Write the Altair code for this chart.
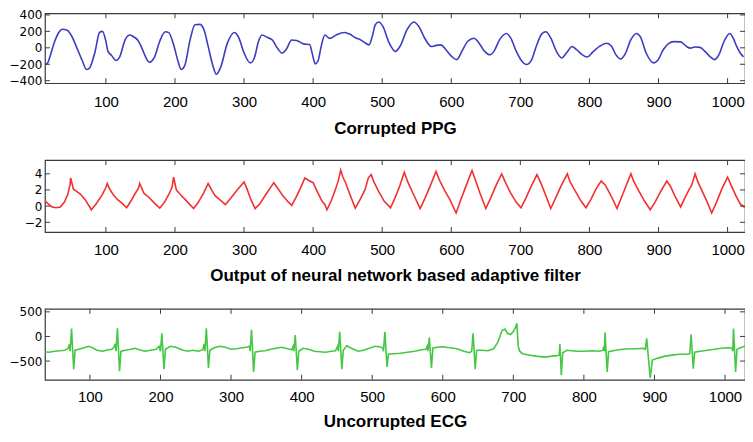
import altair as alt
import pandas as pd

# ---- data (sample index, value) ----
ppg_points = [
    (13, -200), (16, -180), (20, -80), (26, 80), (32, 190), (37, 225), (44, 215), (50, 150), (58, 0),
    (66, -160), (72, -263), (76, -250), (84, -60), (91, 190), (95, 200), (100, 80), (103, -44), (108, -90),
    (115, -155), (120, -110), (128, 100), (135, 155), (141, 130), (146, 95), (152, 0), (158, -120),
    (163, -175), (170, -120), (178, 80), (186, 195), (191, 185), (198, 40), (204, -150), (209, -263),
    (214, -220), (222, 100), (229, 280), (236, 285), (242, 220), (248, 20), (255, -220), (260, -322),
    (266, -240), (276, 60), (286, 187), (292, 130), (300, -60), (309, -183), (315, -120), (321, 80),
    (326, 155), (334, 125), (341, 95), (348, 0), (355, -64), (361, -20), (369, 95), (376, 90), (386, 48),
    (395, 40), (399, -80), (403, -195), (407, -160), (412, 30), (417, 155), (424, 115), (434, 160),
    (445, 187), (452, 170), (462, 120), (469, 95), (476, 56), (481, 36), (486, 150), (490, 280),
    (495, 314), (501, 260), (510, 60), (519, -44), (526, 20), (536, 220), (546, 314), (553, 260),
    (562, 110), (571, 16), (578, 30), (585, 36), (592, -20), (600, -100), (608, -143), (616, -30),
    (624, 80), (633, 116), (640, 60), (648, -40), (656, -84), (662, -40), (670, 100), (680, 175),
    (686, 120), (694, -40), (702, -160), (709, -203), (716, -150), (724, 40), (731, 170), (737, 195),
    (744, 120), (752, -40), (760, -123), (767, -60), (775, 16), (781, -20), (789, -80), (797, -111),
    (805, -50), (815, 20), (825, 56), (832, 20), (838, -80), (845, -135), (852, -70), (860, 100),
    (868, 175), (874, 130), (882, -60), (893, -183), (899, -150), (907, -20), (915, 55), (922, 75),
    (932, 72), (940, 20), (946, -4), (953, 10), (960, 5), (968, -50), (975, -110), (981, -143),
    (987, -90), (995, 80), (1003, 175), (1008, 120), (1013, 20), (1018, -60), (1023, -110),
]

nn_points = [
    (12, 0.7), (16, 0.3), (22, -0.1), (28, -0.2), (34, -0.1), (40, 0.5), (45, 1.5), (48, 2.6), (49, 3.5),
    (51, 2.8), (53, 2.1), (58, 1.8), (63, 1.5), (70, 0.8), (79, -0.45), (86, 0.3), (94, 1.3), (100, 2.3),
    (102, 2.8), (105, 2.2), (110, 1.5), (117, 0.8), (124, 0.3), (130, -0.2), (136, 0.6), (142, 1.5),
    (147, 2.2), (149, 2.8), (152, 2.2), (155, 1.6), (162, 1.1), (170, 0.4), (178, -0.25), (185, 0.5),
    (192, 1.6), (196, 2.4), (198, 3.6), (200, 2.8), (202, 2.0), (208, 1.4), (215, 0.8), (227, -0.3),
    (234, 0.5), (242, 1.7), (248, 2.8), (253, 2.0), (258, 1.3), (266, 0.7), (273, 0.2), (281, 1.0),
    (290, 2.0), (300, 3.0), (304, 2.2), (310, 0.8), (316, -0.3), (323, 0.3), (332, 1.5), (340, 2.5),
    (343, 2.9), (348, 2.3), (356, 1.3), (363, 0.6), (369, 0.1), (376, 1.2), (382, 2.3), (388, 3.5),
    (393, 3.2), (400, 2.9), (406, 1.8), (413, 0.6), (417, 0.2), (420, -0.45), (426, 0.6), (432, 2.0),
    (436, 3.0), (440, 4.45), (443, 3.6), (447, 2.9), (453, 1.5), (461, -0.25), (468, 0.8), (475, 2.0),
    (480, 3.5), (484, 3.9), (488, 3.0), (495, 1.8), (503, 0.6), (512, -0.2), (518, 0.9), (525, 2.4),
    (532, 4.2), (537, 3.0), (545, 1.5), (555, -0.3), (562, 1.0), (570, 2.6), (578, 4.3), (583, 3.2),
    (590, 2.0), (598, 0.8), (607, -0.85), (613, 0.6), (620, 2.2), (630, 4.4), (635, 3.2), (642, 1.5),
    (650, -0.3), (657, 1.0), (665, 2.6), (673, 4.0), (678, 3.0), (686, 1.6), (694, 0.5), (701, -0.2),
    (708, 1.0), (716, 2.5), (724, 3.9), (729, 3.0), (736, 1.5), (744, -0.3), (751, 1.0), (759, 2.5),
    (768, 4.0), (772, 3.0), (780, 1.8), (788, 0.6), (795, -0.2), (802, 0.8), (810, 2.2), (817, 3.1),
    (823, 2.6), (830, 1.5), (840, -0.3), (846, 1.0), (853, 2.5), (860, 4.0), (864, 3.1), (872, 1.8),
    (880, 0.6), (888, -0.45), (895, 0.5), (903, 1.8), (912, 3.1), (917, 2.5), (924, 1.2), (932, -0.1),
    (938, 1.0), (944, 2.0), (948, 2.6), (953, 4.0), (957, 3.0), (964, 1.7), (971, 0.4), (977, -0.85),
    (984, 0.5), (992, 2.2), (1000, 3.6), (1005, 2.6), (1012, 1.3), (1018, 0.3), (1024, -0.1), (1029, 0.2),
]

ecg_points = [
    (36, -310), (42, -320), (50, -300), (58, -290), (64, -280), (69, -250), (71, -160), (72, -300),
    (74, 160), (77, -667), (79, -280), (84, -260), (92, -230), (98, -200), (104, -230), (110, -280),
    (118, -300), (126, -270), (131, -260), (134, -220), (136, -150), (137, -300),
    (139, 166), (142, -707), (144, -300), (150, -280), (158, -260), (164, -240), (170, -270), (178, -300),
    (186, -280), (194, -260), (198, -200), (200, -300),
    (202, 66), (205, -667), (207, -260), (214, -200), (222, -220), (230, -270), (238, -300), (246, -280),
    (254, -300), (260, -270), (262, -150), (263, -300),
    (265, 166), (268, -640), (270, -280), (276, -230), (284, -200), (292, -220), (300, -260), (308, -250),
    (316, -230), (322, -220), (326, -200), (327, -300),
    (329, 134), (332, -720), (334, -320), (340, -300), (348, -290), (356, -260), (364, -240), (372, -220),
    (380, -250), (386, -270), (388, -200), (389, -300),
    (391, 26), (394, -687), (396, -300), (402, -240), (410, -260), (418, -300), (426, -310), (434, -320),
    (442, -300), (448, -290), (451, -200), (452, -300),
    (454, 94), (457, -667), (459, -280), (464, -190), (472, -250), (480, -300), (488, -280), (496, -240),
    (504, -200), (510, -210), (515, -230), (516, -300),
    (518, 94), (521, -620), (523, -360), (530, -350), (540, -340), (550, -320), (560, -300), (570, -270),
    (576, -260), (578, -200), (579, -300),
    (581, -20), (584, -640), (586, -240), (592, -220), (600, -210), (610, -230), (620, -250), (630, -300),
    (638, -330), (641, -300),
    (643, 66), (646, -667), (648, -280), (656, -280), (664, -290), (672, -250), (678, -120), (684, 120),
    (688, 150), (692, 60), (696, 40), (700, 100), (703, 180), (705, 266), (707, -200), (709, -300),
    (713, -350), (720, -370), (732, -400), (745, -420), (755, -400), (762, -390), (765, -380),
    (766, -150), (768, -787), (770, -330), (776, -280), (790, -300), (800, -300), (812, -290), (822, -300),
    (827, -280), (828, -200), (829, -300),
    (830, 80), (833, -720), (835, -310), (845, -280), (855, -260), (865, -250), (875, -250), (884, -240),
    (887, -260),
    (889, -40), (894, -840), (897, -480), (905, -440), (915, -400), (925, -380), (935, -360), (945, -360),
    (950, -350),
    (952, 46), (955, -653), (957, -320), (965, -300), (975, -280), (985, -260), (995, -240), (1005, -230),
    (1010, -240), (1011, -300),
    (1012, 160), (1015, -720), (1017, -260), (1022, -230), (1028, -200), (1033, -170), (1035, -160),
    (1038, -220),
]

x_ticks = [100, 200, 300, 400, 500, 600, 700, 800, 900, 1000]
ppg_yticks = [-400, -200, 0, 200, 400]
nn_yticks = [-2, 0, 2, 4]
ecg_yticks = [-500, 0, 500]

titles = ["Corrupted PPG", "Output of neural network based adaptive filter", "Uncorrupted ECG"]

FRAME = "#3a3a3a"
PLOT_W = 701
TICK = 5


def panel(points, color, xdom, ydom, yticks, title, interp, h, lpad, tpad):
    df = pd.DataFrame(points, columns=["x", "y"])
    xt = pd.DataFrame({"x": x_ticks})
    yt = pd.DataFrame({"y": yticks})
    xs = alt.Scale(domain=xdom, nice=False, zero=False)
    ys = alt.Scale(domain=ydom, nice=False, zero=False)
    x_enc = alt.X(
        "x:Q", scale=xs,
        axis=alt.Axis(orient="bottom", values=x_ticks, format="d", ticks=False, domain=False,
                      grid=False, labelPadding=lpad, labelFontSize=15,
                      labelFont="Liberation Sans", labelColor="black", labelFlush=False,
                      labelOverlap=False, title=title, titleFont="Liberation Sans",
                      titleFontSize=17, titleFontWeight="bold", titleColor="black",
                      titlePadding=tpad),
    )
    y_enc = alt.Y(
        "y:Q", scale=ys,
        axis=alt.Axis(orient="left", values=yticks, format="d", ticks=False, domain=False,
                      grid=False, labelPadding=3, labelFontSize=12, labelFont="DejaVu Sans",
                      labelColor="black", labelOverlap=False, labelFlush=False, title=None),
    )
    line = alt.Chart(df).mark_line(color=color, strokeWidth=1.6, clip=True,
                                   interpolate=interp).encode(x=x_enc, y=y_enc)
    rule = dict(color=FRAME, strokeWidth=1)
    xnoax = alt.X("x:Q", scale=xs, axis=None)
    ynoax = alt.Y("y:Q", scale=ys, axis=None)
    top_ticks = alt.Chart(xt).mark_rule(**rule).encode(
        x=xnoax, y=alt.value(0), y2=alt.value(TICK))
    bottom_ticks = alt.Chart(xt).mark_rule(**rule).encode(
        x=xnoax, y=alt.value(h - TICK), y2=alt.value(h))
    left_ticks = alt.Chart(yt).mark_rule(**rule).encode(
        y=ynoax, x=alt.value(0), x2=alt.value(TICK))
    right_ticks = alt.Chart(yt).mark_rule(**rule).encode(
        y=ynoax, x=alt.value(PLOT_W - TICK), x2=alt.value(PLOT_W))
    return (alt.layer(line, top_ticks, bottom_ticks, left_ticks, right_ticks)
            .resolve_axis(x="independent", y="independent")
            .properties(width=PLOT_W, height=h))


p1 = panel(ppg_points, "#3c3cc0", [11.8, 1025.2], [-430, 420], ppg_yticks, titles[0],
           "monotone", 70, 11, 11)
p2 = panel(nn_points, "#f23030", [11.8, 1025.2], [-3.2, 5.7], nn_yticks, titles[1],
           "linear", 72, 11, 10)
p3 = panel(ecg_points, "#44c844", [36.3, 1028.3], [-880, 560], ecg_yticks, titles[2],
           "linear", 71, 10, 9)

chart = (alt.vconcat(p1, p2, p3, spacing=77, bounds="flush")
         .properties(padding={"left": 0, "top": 0, "right": -2, "bottom": 0},
                     background="white")
         .configure_view(stroke=FRAME, strokeWidth=1.2))

chart.save("out.html", embed_options={"renderer": "svg", "actions": False})
